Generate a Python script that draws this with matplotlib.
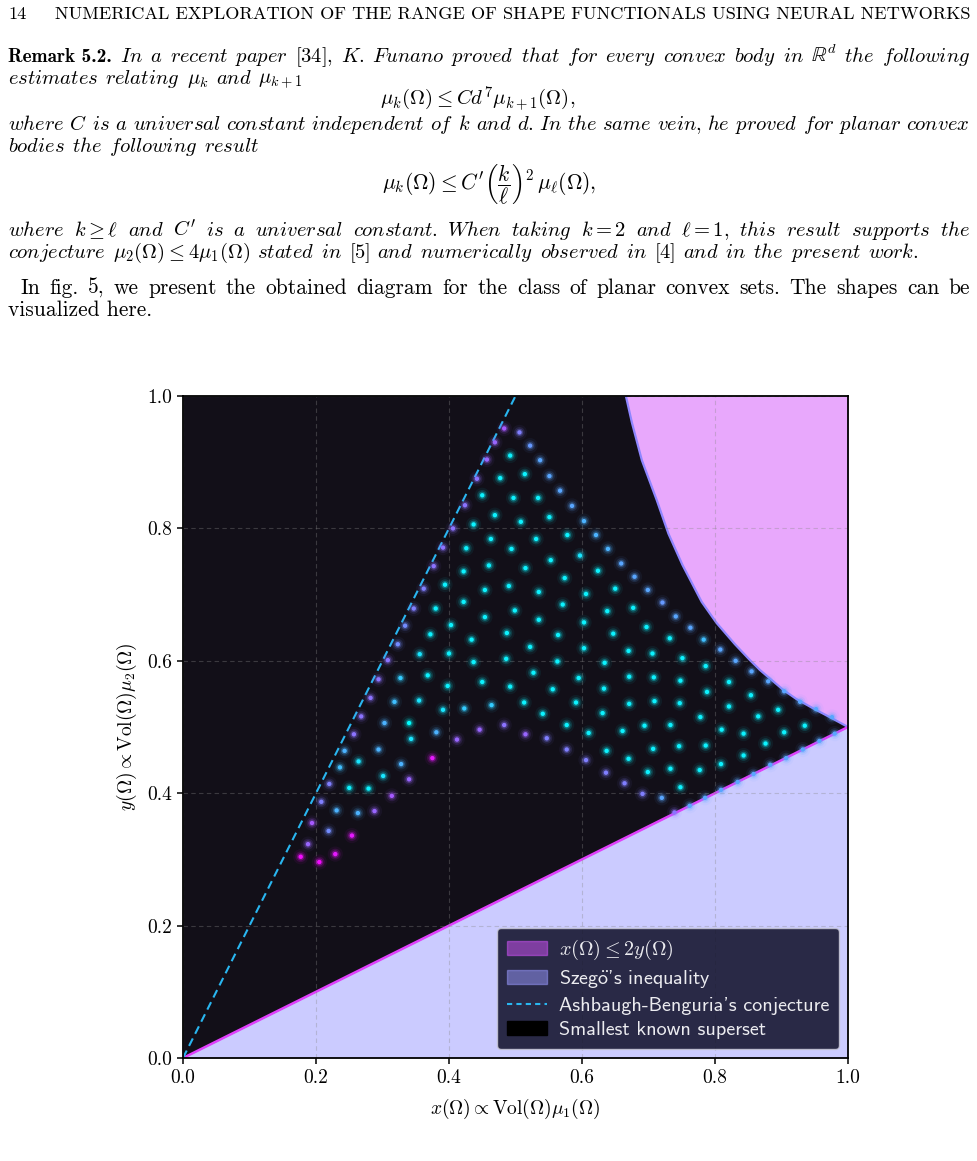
import re
import numpy as np
import matplotlib
matplotlib.use('Agg')
import matplotlib.pyplot as plt
from matplotlib.patches import Patch
from matplotlib.lines import Line2D

plt.rcParams['mathtext.fontset'] = 'cm'
plt.rcParams['axes.formatter.use_mathtext'] = True

# ---------------- data ----------------
ticks = [0.0, 0.2, 0.4, 0.6, 0.8, 1.0]
tick_labels = ['0.0', '0.2', '0.4', '0.6', '0.8', '1.0']

szego_x = [0.0, 1.0]
szego_y = [0.0, 0.5]
ab_x = [0.0, 0.5]
ab_y = [0.0, 1.0]
bound_x = [0.666, 0.675, 0.690, 0.7123, 0.730, 0.751, 0.780, 0.8025, 0.830,
           0.8526, 0.8677, 0.9027, 0.9228, 0.9479, 0.978, 1.0]
bound_y = [1.0, 0.960, 0.903, 0.843, 0.792, 0.745, 0.689, 0.657, 0.625,
           0.601, 0.586, 0.556, 0.542, 0.528, 0.512, 0.5]

pts_x = [0.483,0.506,0.469,0.522,0.457,0.492,0.537,0.442,0.477,0.514,
         0.551,0.450,0.424,0.497,0.534,0.567,0.585,0.437,0.406,0.469,
         0.508,0.551,0.603,0.426,0.391,0.463,0.531,0.578,0.621,0.377,
         0.422,0.494,0.639,0.553,0.597,0.659,0.394,0.460,0.515,0.624,
         0.574,0.679,0.362,0.454,0.490,0.535,0.606,0.650,0.699,0.422,
         0.380,0.347,0.721,0.571,0.638,0.677,0.741,0.454,0.499,0.535,
         0.603,0.697,0.403,0.334,0.647,0.732,0.487,0.564,0.434,0.372,
         0.323,0.356,0.400,0.522,0.603,0.670,0.706,0.486,0.563,0.634,
         0.437,0.308,0.527,0.595,0.671,0.708,0.450,0.492,0.556,0.633,
         0.748,0.327,0.368,0.398,0.294,0.464,0.513,0.591,0.671,0.709,
         0.747,0.541,0.631,0.282,0.318,0.355,0.391,0.423,0.446,0.483,
         0.577,0.661,0.694,0.733,0.515,0.547,0.610,0.746,0.577,0.637,
         0.707,0.606,0.670,0.733,0.636,0.699,0.664,0.691,0.720,0.748,
         0.739,0.268,0.303,0.340,0.381,0.257,0.343,0.412,0.243,0.294,
         0.375,0.264,0.236,0.328,0.220,0.250,0.279,0.301,0.340,0.314,
         0.208,0.231,0.263,0.288,0.194,0.219,0.254,0.188,0.177,0.205,
         0.229,0.763,0.783,0.808,0.751,0.786,0.831,0.855,0.821,0.880,
         0.788,0.854,0.904,0.928,0.821,0.895,0.952,0.976,0.778,0.865,
         0.810,0.843,0.904,0.935,0.980,0.786,0.876,0.957,0.932,0.843,
         0.907,0.777,0.809,0.883,0.858,0.834,0.809,0.785,0.762]
pts_y = [0.951,0.945,0.930,0.925,0.904,0.910,0.903,0.875,0.876,0.882,
         0.879,0.850,0.835,0.846,0.846,0.857,0.834,0.806,0.800,0.820,
         0.810,0.817,0.811,0.770,0.771,0.784,0.784,0.790,0.790,0.743,
         0.735,0.769,0.769,0.752,0.759,0.747,0.715,0.744,0.740,0.736,
         0.725,0.727,0.709,0.707,0.713,0.704,0.701,0.709,0.707,0.689,
         0.679,0.679,0.688,0.685,0.675,0.680,0.667,0.666,0.676,0.662,
         0.658,0.651,0.654,0.653,0.641,0.634,0.642,0.639,0.632,0.640,
         0.625,0.610,0.611,0.621,0.619,0.615,0.611,0.603,0.599,0.597,
         0.598,0.601,0.582,0.574,0.576,0.575,0.568,0.561,0.557,0.558,
         0.570,0.574,0.578,0.562,0.572,0.533,0.537,0.537,0.535,0.539,
         0.536,0.520,0.521,0.544,0.538,0.540,0.526,0.528,0.496,0.503,
         0.503,0.494,0.502,0.503,0.489,0.483,0.491,0.471,0.466,0.464,
         0.467,0.450,0.452,0.437,0.431,0.432,0.415,0.399,0.393,0.409,
         0.371,0.516,0.506,0.506,0.492,0.489,0.482,0.481,0.464,0.466,
         0.453,0.448,0.439,0.444,0.414,0.408,0.407,0.426,0.421,0.396,
         0.387,0.374,0.370,0.373,0.355,0.343,0.336,0.323,0.304,0.296,
         0.308,0.650,0.632,0.617,0.604,0.592,0.600,0.584,0.568,0.569,
         0.553,0.548,0.554,0.538,0.531,0.526,0.527,0.515,0.515,0.516,
         0.496,0.490,0.492,0.502,0.490,0.472,0.475,0.479,0.466,0.457,
         0.453,0.435,0.444,0.443,0.429,0.417,0.405,0.393,0.381]
pts_c = [0.65,0.50,0.60,0.40,0.60,0.05,0.35,0.55,0.05,0.05,
         0.35,0.05,0.55,0.05,0.05,0.35,0.35,0.05,0.55,0.05,
         0.05,0.05,0.30,0.05,0.55,0.05,0.05,0.05,0.30,0.55,
         0.05,0.05,0.30,0.05,0.10,0.35,0.05,0.05,0.05,0.05,
         0.05,0.35,0.50,0.05,0.05,0.05,0.05,0.05,0.35,0.05,
         0.05,0.50,0.40,0.05,0.05,0.05,0.35,0.05,0.05,0.05,
         0.05,0.05,0.05,0.45,0.05,0.05,0.05,0.05,0.05,0.05,
         0.45,0.10,0.05,0.05,0.05,0.05,0.05,0.05,0.05,0.05,
         0.05,0.55,0.05,0.05,0.05,0.05,0.05,0.05,0.05,0.05,
         0.05,0.20,0.05,0.05,0.55,0.20,0.05,0.05,0.05,0.05,
         0.05,0.05,0.05,0.55,0.25,0.10,0.10,0.20,0.60,0.55,
         0.05,0.05,0.05,0.05,0.60,0.50,0.05,0.05,0.50,0.05,
         0.05,0.50,0.05,0.05,0.50,0.05,0.50,0.50,0.35,0.05,
         0.55,0.55,0.30,0.00,0.30,0.55,0.10,0.60,0.30,0.30,
         0.90,0.10,0.25,0.30,0.50,0.05,0.05,0.10,0.60,0.65,
         0.50,0.30,0.30,0.60,0.65,0.45,0.90,0.60,0.95,0.95,
         0.90,0.35,0.25,0.35,0.05,0.05,0.35,0.35,0.05,0.35,
         0.05,0.05,0.35,0.35,0.05,0.05,0.35,0.35,0.05,0.05,
         0.05,0.05,0.05,0.05,0.35,0.05,0.05,0.35,0.35,0.05,
         0.35,0.05,0.05,0.35,0.35,0.35,0.35,0.35,0.35]

legend_labels = [r'$x(\Omega) \leq 2y(\Omega)$', r"Szeg$\ddot{\mathsf{o}}$'s inequality",
                 "Ashbaugh-Benguria's conjecture", 'Smallest known superset']

# ---------------- styles ----------------
PINK = '#d353fb'
LAV = '#9999ff'
DARK = '#120f18'
CYAN = '#29b6f0'

W, H = 978, 1161
fig = plt.figure(figsize=(W / 100, H / 100), dpi=100)
fig.patch.set_facecolor('white')
r = fig.canvas.get_renderer()

ax = fig.add_axes([183 / W, 1 - 1058 / H, 665 / W, 662 / H])
ax.set_facecolor('white')

xg = np.linspace(0, 1, 1201)
upper = np.interp(xg, bound_x, bound_y)
lower = np.interp(xg, szego_x, szego_y)
ax.fill_between(xg, lower, upper, color=DARK, lw=0, zorder=1)
ax.fill_between(bound_x, bound_y, 1.0, color=PINK, alpha=0.5, lw=0, zorder=1)
ax.fill_between(szego_x, 0, szego_y, color=LAV, alpha=0.5, lw=0, zorder=1)
ax.plot(bound_x, bound_y, color='#8f86ff', lw=1.6, zorder=2)
ax.plot(szego_x, szego_y, color='#e040fb', lw=1.8, zorder=2)
ax.plot(ab_x, ab_y, color=CYAN, lw=1.5, ls=(0, (4, 2.5)), zorder=3)

ax.set_axisbelow(False)
ax.grid(True, color='#888888', alpha=0.35, ls=(0, (4, 3)), lw=0.8)

for s, a in [(120, 0.06), (60, 0.14), (28, 0.3)]:
    ax.scatter(pts_x, pts_y, c=pts_c, cmap='cool', vmin=0, vmax=1, s=s,
               alpha=a, linewidths=0, zorder=4)
ax.scatter(pts_x, pts_y, c=pts_c, cmap='cool', vmin=0, vmax=1, s=10,
           linewidths=0, zorder=5)

ax.set_xlim(0, 1)
ax.set_ylim(0, 1)
ax.set_xticks(ticks, tick_labels, fontfamily='cmr10', fontsize=14)
ax.set_yticks(ticks, tick_labels, fontfamily='cmr10', fontsize=14)
ax.tick_params(direction='out', length=4, width=1.1, pad=4)
for sp in ax.spines.values():
    sp.set_linewidth(1.3)
    sp.set_zorder(6)
ax.set_xlabel(r'$x(\Omega) \propto \mathrm{Vol}(\Omega)\mu_1(\Omega)$', fontsize=14, labelpad=7)
ax.set_ylabel(r'$y(\Omega) \propto \mathrm{Vol}(\Omega)\mu_2(\Omega)$', fontsize=14, labelpad=6)

handles = [Patch(facecolor=PINK, edgecolor=PINK, alpha=0.5),
           Patch(facecolor=LAV, edgecolor=LAV, alpha=0.5),
           Line2D([], [], color=CYAN, lw=1.5, ls=(0, (2.5, 2))),
           Patch(facecolor='#000000', edgecolor='#000000')]
leg = ax.legend(handles, legend_labels, loc='lower right',
                prop={'family': 'cmss10', 'size': 14.5},
                facecolor='#0d0d26', edgecolor='#c8c8d8', framealpha=0.85,
                borderaxespad=0.45, handlelength=2.0, handletextpad=0.6,
                labelspacing=0.32, borderpad=0.48)
leg.set_zorder(10)
for t in leg.get_texts():
    t.set_color('#ececf0')

# ---------------- page text ----------------
def tokenize(s):
    toks, cur, inmath = [], '', False
    for ch in s:
        if ch == '$':
            inmath = not inmath
        if ch == ' ' and not inmath:
            if cur:
                toks.append(cur)
            cur = ''
        else:
            cur += ch
    if cur:
        toks.append(cur)
    return toks

def as_italic_math(tok):
    parts = tok.split('$')
    out = []
    for i, p in enumerate(parts):
        if i % 2 == 1:
            out.append(p)
        else:
            for m in re.finditer(r'[A-Za-z]+|[^A-Za-z]+', p):
                g = m.group()
                out.append((r'\mathit{%s}' if g[0].isalpha() else r'\mathrm{%s}') % g)
    return '$' + ''.join(out) + '$'

def put(x0, yb, s, x1=None, size=13.2, **kw):
    t = fig.text(x0 / W, 1 - yb / H, s, ha='left', va='baseline', fontsize=size, **kw)
    if x1 is not None:
        bb = t.get_window_extent(renderer=r)
        t.set_fontsize(size * (x1 - x0) / bb.width)
    return t

def line(x0, yb, s, size, x1=None, italic=False, **kw):
    toks = tokenize(s)
    if italic:
        toks = [as_italic_math(t) for t in toks]
    texts = [fig.text(0, 0, tok, ha='left', va='baseline', fontsize=size, **kw)
             for tok in toks]
    widths = [t.get_window_extent(renderer=r).width for t in texts]
    if x1 is None:
        gap = 0.34 * size * 100 / 72
    else:
        gap = (x1 - x0 - sum(widths)) / max(len(texts) - 1, 1)
    x = x0
    for t, w in zip(texts, widths):
        t.set_position((x / W, 1 - yb / H))
        x += w + gap

def center(xc, yb, s, size, **kw):
    fig.text(xc / W, 1 - yb / H, s, ha='center', va='baseline', fontsize=size, **kw)

ROM = dict(family='cmr10')

hdr = put(55, 19, 'NUMERICAL EXPLORATION OF THE RANGE OF SHAPE FUNCTIONALS USING NEURAL NETWORKS',
          x1=970, size=11, **ROM)
put(8, 19, '14', size=hdr.get_fontsize(), **ROM)

probe = put(8, 316, 'visualized here.', x1=151, size=14, **ROM)
S = probe.get_fontsize()
SI = S * 0.96

put(8, 62, 'Remark 5.2.', x1=112, size=S, family='cmb10')
line(120, 62, r'In a recent paper [34], K. Funano proved that for every convex body in $\mathbb{R}^d$ the following',
     SI, x1=970, italic=True)
line(8, 84, r'estimates relating $\mu_k$ and $\mu_{k+1}$', SI, italic=True)
center(478, 104, r'$\mu_k(\Omega) \leq Cd^7\mu_{k+1}(\Omega),$', S * 0.97)
line(8, 130, r'where $C$ is a universal constant independent of $k$ and $d$. In the same vein, he proved for planar convex',
     SI, x1=970, italic=True)
line(8, 152, 'bodies the following result', SI, italic=True)
center(489, 189, r'$\mu_k(\Omega) \leq C^{\prime}\left(\dfrac{k}{\ell}\right)^2\,\mu_\ell(\Omega),$', S)
line(8, 236, r'where $k \geq \ell$ and $C^{\prime}$ is a universal constant. When taking $k = 2$ and $\ell = 1$, this result supports the',
     SI, x1=970, italic=True)
line(8, 258, r'conjecture $\mu_2(\Omega) \leq 4\mu_1(\Omega)$ stated in [5] and numerically observed in [4] and in the present work.',
     SI, italic=True)
line(20, 294, 'In fig. 5, we present the obtained diagram for the class of planar convex sets. The shapes can be',
     S, x1=970, **ROM)

fig.savefig('out.png', dpi=100)
